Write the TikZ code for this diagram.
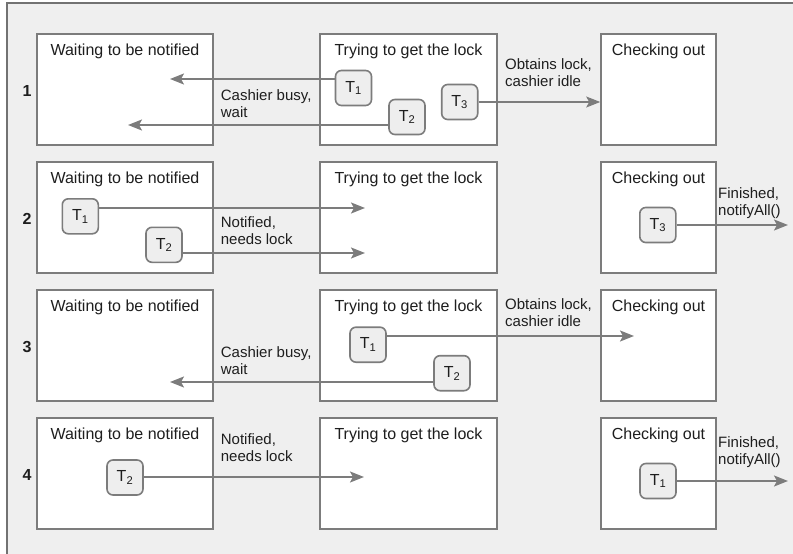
\documentclass[tikz,border=0pt]{standalone}
\usepackage{fontspec}
\setmainfont{Liberation Sans}
\usetikzlibrary{arrows.meta}
\definecolor{panel}{HTML}{EFEFEF}
\definecolor{frameline}{HTML}{727272}
\definecolor{edge}{HTML}{7C7C7C}
\definecolor{token}{HTML}{EEEEEE}
\definecolor{ink}{HTML}{1E1E1E}
\begin{document}
\begin{tikzpicture}[x=1pt,y=-1pt,
  stagebox/.style={draw=edge,line width=1.6pt,fill=white,inner sep=0pt},
  stagetitle/.style={anchor=base,inner sep=0pt,text=ink,font=\fontsize{16}{19}\selectfont},
  thread/.style={draw=edge,line width=1.6pt,fill=token,rounded corners=6pt,
    minimum width=36pt,minimum height=35pt,inner sep=0pt,text=ink,
    font=\fontsize{16}{19}\selectfont},
  rownum/.style={anchor=base,inner sep=0pt,text=ink,font=\fontsize{16}{19}\selectfont\bfseries},
  % multi-line notes are anchored at the baseline of their last line
  note/.style={anchor=base west,align=left,inner sep=0pt,text=ink,
    font=\fontsize{15}{17}\selectfont},
  move/.style={draw=edge,line width=1.6pt,-{Stealth[length=14pt,width=11pt,inset=3pt]}}]

% canvas and outer frame
\fill[white] (0,0) rectangle (793,554);
\useasboundingbox (0,0) rectangle (793,554);
\filldraw[fill=panel,draw=frameline,line width=1.8pt] (7,3) rectangle (810,570);

% ---- row 1 ----
\node[rownum] (n1) at (27,96) {1};
\node[stagebox,minimum width=176pt,minimum height=111pt] (W1) at (125,89.5) {};
\node[stagebox,minimum width=177pt,minimum height=111pt] (L1) at (408.5,89.5) {};
\node[stagebox,minimum width=115pt,minimum height=111pt] (C1) at (658.5,89.5) {};
\node[stagetitle] (W1t) at (125,55.5) {Waiting to be notified};
\node[stagetitle] (L1t) at (408.5,55.5) {Trying to get the lock};
\node[stagetitle] (C1t) at (658.5,55.5) {Checking out};
\node[thread] (r1a) at (353.5,88) {T\textsubscript{1}};
\node[thread] (r1b) at (407,117) {T\textsubscript{2}};
\node[thread] (r1c) at (459.7,102) {T\textsubscript{3}};
\coordinate (r1p) at (170,79);
\coordinate (r1q) at (128,125);
\draw[move] (r1a.west |- r1p) -- (r1p);
\draw[move] (r1b.west |- r1q) -- (r1q);
\draw[move] (r1c.east) -- (r1c.east -| C1.west);
\node[note] (r1x) at (220.7,117) {Cashier busy,\\wait};
\node[note] (r1y) at (505,86) {Obtains lock,\\cashier idle};

% ---- row 2 ----
\node[rownum] (n2) at (27,224) {2};
\node[stagebox,minimum width=176pt,minimum height=111pt] (W2) at (125,217.5) {};
\node[stagebox,minimum width=177pt,minimum height=111pt] (L2) at (408.5,217.5) {};
\node[stagebox,minimum width=115pt,minimum height=111pt] (C2) at (658.5,217.5) {};
\node[stagetitle] (W2t) at (125,183.5) {Waiting to be notified};
\node[stagetitle] (L2t) at (408.5,183.5) {Trying to get the lock};
\node[stagetitle] (C2t) at (658.5,183.5) {Checking out};
\node[thread] (r2a) at (80.3,216.3) {T\textsubscript{1}};
\node[thread] (r2b) at (164,244.8) {T\textsubscript{2}};
\node[thread] (r2c) at (657.8,225) {T\textsubscript{3}};
\coordinate (r2p) at (365,208);
\coordinate (r2q) at (365,253);
\coordinate (r2r) at (788,225);
\draw[move] (r2a.east |- r2p) -- (r2p);
\draw[move] (r2b.east |- r2q) -- (r2q);
\draw[move] (r2c.east |- r2r) -- (r2r);
\node[note] (r2x) at (220.7,244) {Notified,\\needs lock};
\node[note] (r2y) at (718,215.5) {Finished,\\notifyAll()};

% ---- row 3 ----
\node[rownum] (n3) at (27,352) {3};
\node[stagebox,minimum width=176pt,minimum height=111pt] (W3) at (125,345.5) {};
\node[stagebox,minimum width=177pt,minimum height=111pt] (L3) at (408.5,345.5) {};
\node[stagebox,minimum width=115pt,minimum height=111pt] (C3) at (658.5,345.5) {};
\node[stagetitle] (W3t) at (125,311.5) {Waiting to be notified};
\node[stagetitle] (L3t) at (408.5,311.5) {Trying to get the lock};
\node[stagetitle] (C3t) at (658.5,311.5) {Checking out};
\node[thread] (r3a) at (368,344.7) {T\textsubscript{1}};
\node[thread] (r3b) at (452,373.2) {T\textsubscript{2}};
\coordinate (r3p) at (634,336);
\coordinate (r3q) at (170,382);
\draw[move] (r3a.east |- r3p) -- (r3p);
\draw[move] (r3b.west |- r3q) -- (r3q);
\node[note] (r3x) at (220.7,374) {Cashier busy,\\wait};
\node[note] (r3y) at (505,326) {Obtains lock,\\cashier idle};

% ---- row 4 ----
\node[rownum] (n4) at (27,480) {4};
\node[stagebox,minimum width=176pt,minimum height=111pt] (W4) at (125,473.5) {};
\node[stagebox,minimum width=177pt,minimum height=111pt] (L4) at (408.5,473.5) {};
\node[stagebox,minimum width=115pt,minimum height=111pt] (C4) at (658.5,473.5) {};
\node[stagetitle] (W4t) at (125,439.5) {Waiting to be notified};
\node[stagetitle] (L4t) at (408.5,439.5) {Trying to get the lock};
\node[stagetitle] (C4t) at (658.5,439.5) {Checking out};
\node[thread] (r4b) at (125,477.5) {T\textsubscript{2}};
\node[thread] (r4a) at (658,481) {T\textsubscript{1}};
\coordinate (r4p) at (364,477);
\coordinate (r4q) at (788,481);
\draw[move] (r4b.east |- r4p) -- (r4p);
\draw[move] (r4a.east |- r4q) -- (r4q);
\node[note] (r4x) at (220.7,461) {Notified,\\needs lock};
\node[note] (r4y) at (718,464) {Finished,\\notifyAll()};
\end{tikzpicture}
\end{document}
